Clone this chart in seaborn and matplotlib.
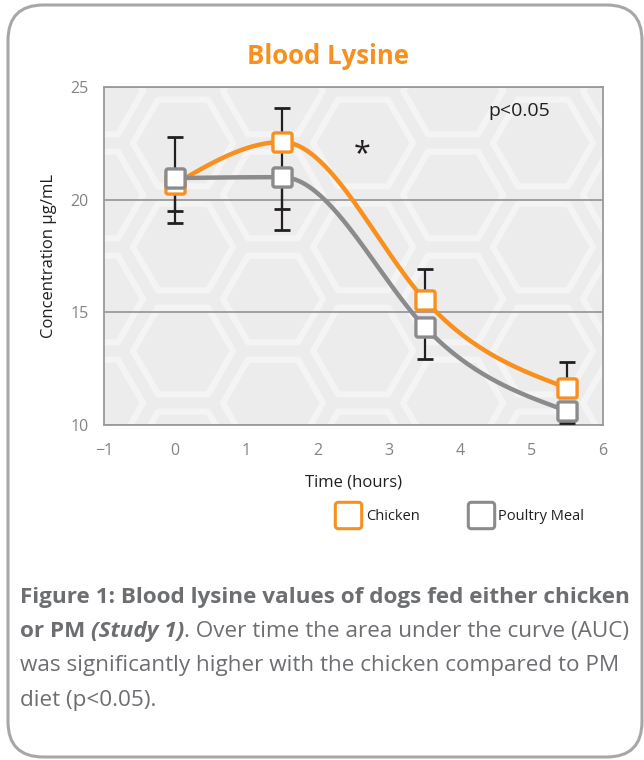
import matplotlib
matplotlib.use("Agg")
import matplotlib.pyplot as plt
from matplotlib.lines import Line2D
from matplotlib.markers import MarkerStyle
from matplotlib.patches import FancyBboxPatch, Polygon
from matplotlib.path import Path
import numpy as np
import pandas as pd
import seaborn as sns

# data
hours = [0, 1.5, 3.5, 5.5]
chicken = [20.7, 22.56, 15.55, 11.64]
poultry = [20.96, 21.0, 14.35, 10.62]
chicken_err_top = [22.78, 24.05, 16.92, 12.8]
chicken_err_low = [19.5, 19.57, 15.55, 11.64]
poultry_err_low = [18.96, 18.64, 12.94, 10.1]
x_ticks = [-1, 0, 1, 2, 3, 4, 5, 6]
y_ticks = [10, 15, 20, 25]
series_names = ["Chicken", "Poultry Meal"]

ORANGE = "#f7901e"
GREY = "#8b8b8e"
FONT = "Open Sans"

W, H = 644, 760


def smooth(x, y, n=80):
    """Smooth cubic Hermite curve through the points (drawing only)."""
    x = np.asarray(x, float)
    y = np.asarray(y, float)
    d = np.diff(y) / np.diff(x)
    m = np.empty_like(y)
    for i in range(1, len(y) - 1):
        if d[i - 1] * d[i] <= 0:
            m[i] = 0.0
        else:
            m[i] = d[i - 1] if abs(d[i - 1]) > abs(d[i]) else d[i]
    m[0] = (3 * d[0] - m[1]) / 2
    m[-1] = (3 * d[-1] - m[-2]) / 2
    xs, ys = [], []
    t = np.linspace(0, 1, n)
    h00 = 2 * t**3 - 3 * t**2 + 1
    h10 = t**3 - 2 * t**2 + t
    h01 = -2 * t**3 + 3 * t**2
    h11 = t**3 - t**2
    for i in range(len(x) - 1):
        h = x[i + 1] - x[i]
        xs.append(x[i] + t * h)
        ys.append(h00 * y[i] + h10 * h * m[i] + h01 * y[i + 1] + h11 * h * m[i + 1])
    return np.concatenate(xs), np.concatenate(ys)


def rounded_square(r=0.22, n=6):
    verts = []
    for cx, cy, a0 in [(1 - r, 1 - r, 0), (-1 + r, 1 - r, 90),
                       (-1 + r, -1 + r, 180), (1 - r, -1 + r, 270)]:
        for a in np.deg2rad(np.linspace(a0, a0 + 90, n)):
            verts.append((cx + r * np.cos(a), cy + r * np.sin(a)))
    verts.append(verts[0])
    codes = [Path.MOVETO] + [Path.LINETO] * (len(verts) - 2) + [Path.CLOSEPOLY]
    return MarkerStyle(Path(verts, codes))


def fx(px):
    return px / W


def fy(py):
    return 1 - py / H


def main():
    sns.set_theme(style="white")
    plt.rcParams["font.family"] = [FONT, "DejaVu Sans"]

    fig = plt.figure(figsize=(W / 100, H / 100), dpi=100)
    fig.patch.set_facecolor("white")

    # rounded frame around the whole panel
    frame = FancyBboxPatch((fx(8), fy(757)), fx(634), 752 / H,
                           boxstyle="round,pad=0,rounding_size=0.055",
                           mutation_aspect=W / H, transform=fig.transFigure,
                           fill=False, ec="#a7a7a9", lw=2.2)
    fig.add_artist(frame)

    ax = fig.add_axes([fx(104), fy(425), fx(603 - 104), (425 - 87) / H])
    ax.set_facecolor("#ececec")
    ax.set_xlim(-1, 6)
    ax.set_ylim(10, 25)

    # faint honeycomb background
    ux = (603 - 104) / 7
    uy = (425 - 87) / 15
    ang = np.deg2rad(np.arange(0, 360, 60))
    for col in range(-1, 8):
        cx = 183 + col * 90
        off = 52 if col % 2 else 0
        for row in range(-1, 5):
            cy = 143 + row * 104 + off
            pts = [(-1 + (cx + 50 * np.cos(a) - 104) / ux,
                    25 - (cy + 50 * np.sin(a) - 87) / uy) for a in ang]
            ax.add_patch(Polygon(pts, closed=True, fill=False, ec="#f4f4f4",
                                 lw=4.5, joinstyle="round", zorder=0))

    ax.yaxis.grid(True, color="#9a9a9c", lw=1.3, zorder=1)
    ax.xaxis.grid(False)
    ax.set_axisbelow(True)
    for side in ["left", "bottom", "right", "top"]:
        ax.spines[side].set_color("#9a9a9c")
        ax.spines[side].set_linewidth(1.3)

    # error bars (behind the curves)
    ch = np.array(chicken)
    pm = np.array(poultry)
    ax.errorbar(hours, chicken, yerr=[ch - np.array(chicken_err_low),
                                      np.array(chicken_err_top) - ch],
                fmt="none", ecolor="#231f20", elinewidth=1.6, capsize=6,
                capthick=2, zorder=3)
    ax.errorbar(hours, poultry, yerr=[pm - np.array(poultry_err_low),
                                      np.zeros(len(pm))],
                fmt="none", ecolor="#231f20", elinewidth=1.6, capsize=6,
                capthick=2, zorder=3)

    box = rounded_square()
    for vals, color, z in [(chicken, ORANGE, 4), (poultry, GREY, 6)]:
        sx, sy = smooth(hours, vals)
        curve = pd.DataFrame({"x": sx, "y": sy})
        sns.lineplot(data=curve, x="x", y="y", ax=ax, color=color, lw=3.2,
                     sort=False, estimator=None, zorder=z)
        pts = pd.DataFrame({"x": hours, "y": vals})
        sns.scatterplot(data=pts, x="x", y="y", ax=ax, marker=box, s=190,
                        color="white", edgecolor=color, linewidth=2.4,
                        zorder=z + 1)

    ax.set_xticks(x_ticks)
    ax.set_yticks(y_ticks)
    ax.set_xticklabels(["\u22121" if t < 0 else str(t) for t in x_ticks])
    ax.tick_params(axis="both", direction="out", length=8, width=1.3,
                   color="#9a9a9c", labelcolor="#838386", labelsize=11.5, pad=5)
    ax.tick_params(axis="y", length=6)

    ax.set_xlabel("Time (hours)", fontsize=12, color="#231f20", labelpad=11)
    ax.set_ylabel("Concentration \u00b5g/mL", fontsize=12, color="#231f20",
                  labelpad=10)

    ax.text(0.832, 0.93, "p<0.05", transform=ax.transAxes, fontsize=14,
            color="#231f20", ha="center", va="center")
    ax.text(0.517, 0.80, "*", transform=ax.transAxes, fontsize=22,
            color="#231f20", ha="center", va="center")

    fig.text(fx(328), fy(57), "Blood Lysine", fontsize=18.5, fontweight="bold",
             color=ORANGE, ha="center", va="center")

    handles = [Line2D([], [], ls="none", marker=box, ms=19, mfc="white",
                      mec=c, mew=2.2) for c in (ORANGE, GREY)]
    fig.legend(handles, series_names, loc="center",
               bbox_to_anchor=(fx(462), fy(517)), ncol=2, frameon=False,
               fontsize=10.5, handletextpad=0.6, columnspacing=3.6,
               handlelength=1.2, labelcolor="#231f20")

    # caption with mixed weights
    caption = [
        [("Figure 1: Blood lysine values of dogs fed either chicken", "bold", "normal")],
        [("or PM ", "bold", "normal"), ("(Study 1)", "bold", "italic"),
         (". Over time the area under the curve (AUC)", "normal", "normal")],
        [("was significantly higher with the chicken compared to PM", "normal", "normal")],
        [("diet (p<0.05).", "normal", "normal")],
    ]
    renderer = fig.canvas.get_renderer()
    for i, line in enumerate(caption):
        x = 20
        y = 597 + i * 34.5
        for text, weight, style in line:
            t = fig.text(fx(x), fy(y), text, fontsize=16.2, fontweight=weight,
                         fontstyle=style, color="#6d6e71", ha="left", va="center")
            x += t.get_window_extent(renderer).width

    fig.savefig("out.png", dpi=100, facecolor="white")


if __name__ == "__main__":
    main()
